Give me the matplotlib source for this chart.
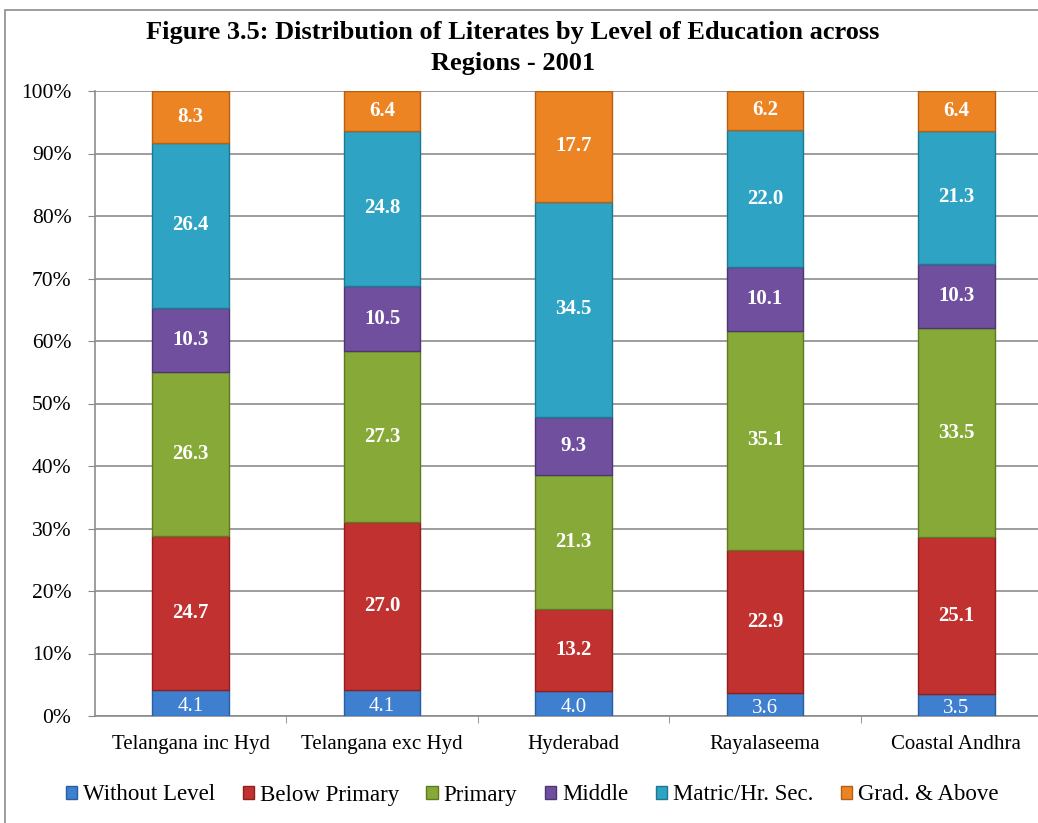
import matplotlib

matplotlib.use("Agg")
import matplotlib.pyplot as plt
import numpy as np
from matplotlib.patches import Rectangle

regions = ["Telangana inc Hyd", "Telangana exc Hyd", "Hyderabad", "Rayalaseema", "Coastal Andhra"]
levels = ["Without Level", "Below Primary", "Primary", "Middle", "Matric/Hr. Sec.", "Grad. & Above"]

without_level = [4.1, 4.1, 4.0, 3.6, 3.5]
below_primary = [24.7, 27.0, 13.2, 22.9, 25.1]
primary = [26.3, 27.3, 21.3, 35.1, 33.5]
middle = [10.3, 10.5, 9.3, 10.1, 10.3]
matric = [26.4, 24.8, 34.5, 22.0, 21.3]
graduate = [8.3, 6.4, 17.7, 6.2, 6.4]

series = [without_level, below_primary, primary, middle, matric, graduate]
colors = ["#3f7fcf", "#c0312f", "#86a938", "#6f4f9e", "#2ea3c4", "#ec8424"]
edges = ["#2a5f9e", "#8e1f1d", "#5f7a22", "#4d3672", "#1d7890", "#b45f12"]

plt.rcParams["font.family"] = ["Liberation Serif", "DejaVu Serif"]

fig = plt.figure(figsize=(10.38, 8.23), dpi=100)
ax = fig.add_axes([95 / 1038, 1 - 716 / 823, 957 / 1038, 625 / 823])

data = np.array(series)
totals = data.sum(axis=0)
shares = data / totals * 100
x = np.arange(len(regions))
bottom = np.zeros(len(regions))
width = 0.40

for i, name in enumerate(levels):
    ax.bar(x, shares[i], width, bottom=bottom, color=colors[i], edgecolor=edges[i],
           linewidth=1.0, label=name, zorder=3)
    for j in range(len(regions)):
        yc = bottom[j] + shares[i][j] / 2
        if i == 0:
            ax.text(x[j], yc - 0.6, f"{data[i][j]:.1f}", ha="center", va="center",
                    color="white", fontsize=15, zorder=4)
        else:
            ax.text(x[j], yc, f"{data[i][j]:.1f}", ha="center", va="center",
                    color="white", fontsize=15, fontweight="bold", zorder=4)
    bottom += shares[i]

ax.set_xlim(-0.5, len(regions) - 0.5)
ax.set_ylim(0, 100)
ax.set_yticks(np.arange(0, 101, 10))
ax.set_yticklabels([f"{v}%" for v in range(0, 101, 10)], fontsize=15.5)
ax.set_xticks(x)
ax.set_xticklabels(regions, fontsize=15)
ax.set_xticks(np.arange(0.5, len(regions) - 0.5, 1), minor=True)
ax.tick_params(axis="x", which="major", length=0, pad=14)
ax.tick_params(axis="x", which="minor", length=5, color="#888888")
ax.tick_params(axis="y", length=5, color="#888888", pad=12)
ax.yaxis.grid(True, color="#8c8c8c", linewidth=1.2, zorder=0)
ax.set_axisbelow(True)
for side in ["top", "right"]:
    ax.spines[side].set_visible(False)
for side in ["left", "bottom"]:
    ax.spines[side].set_color("#8c8c8c")
    ax.spines[side].set_linewidth(1.2)

fig.text(513 / 1038, 1 - 48 / 823,
         "Figure 3.5: Distribution of Literates by Level of Education across\nRegions - 2001",
         ha="center", va="center", fontsize=19, fontweight="bold", linespacing=1.4)

fig.legend(loc="center", bbox_to_anchor=(532 / 1038, 1 - 795 / 823), ncol=6,
           frameon=False, fontsize=16.5, handlelength=0.5, handleheight=0.5,
           handletextpad=0.25, columnspacing=1.2)

fig.patches.append(Rectangle((5 / 1038, -0.1), 1.1, (1 - 10 / 823) + 0.1,
                             transform=fig.transFigure, fill=False,
                             edgecolor="#8c8c8c", linewidth=1.2))

fig.savefig("out.png", dpi=100)
